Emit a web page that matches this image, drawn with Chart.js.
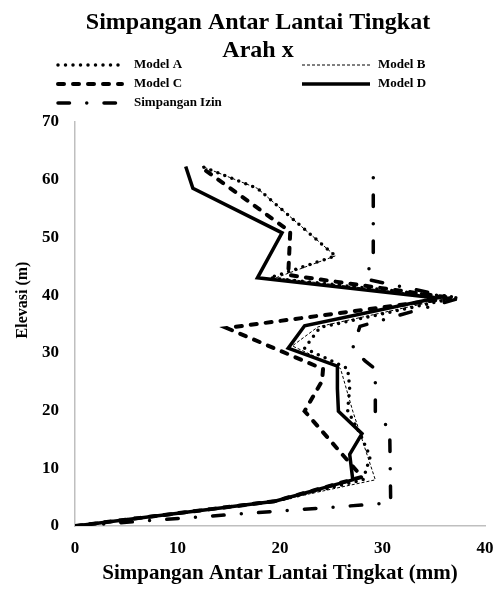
<!DOCTYPE html>
<html>
<head>
<meta charset="utf-8">
<script src="https://cdn.jsdelivr.net/npm/chart.js@4.4.0/dist/chart.umd.min.js"></script>
<style>
    html, body { margin: 0; padding: 0; background: #fff; }
    #wrap { width: 501px; height: 592px; }
</style>
</head>
<body>
<div id="wrap"><canvas id="chart-drift"></canvas></div>
<script>
// Elevasi (m) y simpangan (mm) por modelo
const elevA = [0, 4.3, 8.0, 12.0, 16.0, 20.0, 24.0, 27.3, 30.8, 34.4, 39.6, 43.0, 46.8, 58.5, 62.3];
const driftA = [0, 19.5, 28.1, 28.8, 27.8, 26.6, 26.8, 26.6, 22.4, 23.9, 37.3, 19.0, 25.4, 17.8, 12.4];

const elevB = [0, 4.3, 8.0, 19.9, 27.3, 31.2, 34.5, 39.5, 43.0, 46.8, 58.5, 62.3];
const driftB = [0, 19.5, 29.3, 27.1, 25.9, 21.2, 23.7, 36.5, 19.6, 25.4, 17.8, 12.4];

const elevC = [0, 4.3, 8.5, 19.9, 25.1, 27.2, 34.3, 39.5, 43.5, 51.0, 62.3];
const driftC = [0, 19.5, 28.0, 22.4, 24.1, 24.2, 14.8, 36.8, 20.8, 21.0, 12.2];

const elevD = [0, 4.3, 8.0, 12.4, 16.0, 19.9, 23.8, 27.7, 30.8, 34.7, 39.5, 43.0, 50.8, 58.5, 62.3];
const driftD = [0, 19.5, 27.1, 26.8, 28.0, 25.7, 25.6, 25.6, 20.8, 22.4, 35.3, 17.8, 20.2, 11.5, 10.8];

const elevIzin = [0, 4.0, 16.9, 19.3, 27.2, 28.6, 30.8, 34.6, 39.4, 42.8, 46.5, 62.3];
const driftIzin = [0, 30.8, 30.7, 29.3, 29.3, 28.3, 27.1, 27.8, 37.4, 28.3, 29.1, 29.1];

const seriesNames = ["Model A", "Model B", "Model C", "Model D", "Simpangan Izin"];
const xTicks = [0, 10, 20, 30, 40];
const yTicks = [0, 10, 20, 30, 40, 50, 60, 70];
const titleLines = ["Simpangan Antar Lantai Tingkat", "Arah x"];

const serif = "'Liberation Serif', 'Times New Roman', serif";

function toPoints(xs, ys) {
    return xs.map((x, i) => ({ x: x, y: ys[i] }));
}

// Posiciones de la leyenda (dos columnas como el original)
const legendSlots = [
    { x: 58, y: 65, len: 62, textX: 134 },
    { x: 302, y: 65, len: 68, textX: 378 },
    { x: 58, y: 84, len: 64, textX: 134 },
    { x: 302, y: 84, len: 68, textX: 378 },
    { x: 58, y: 103, len: 62, textX: 134 },
];

const customLegend = {
    id: "customLegend",
    afterDraw(chart) {
        const ctx = chart.ctx;

        // titulo principal
        ctx.save();
        ctx.fillStyle = "#000";
        ctx.font = "bold 24px " + serif;
        ctx.textAlign = "center";
        ctx.textBaseline = "middle";
        titleLines.forEach((t, i) => ctx.fillText(t, 258, 23 + i * 28));
        ctx.restore();

        legendSlots.forEach((slot, i) => {
            const ds = chart.data.datasets[i];
            ctx.save();
            ctx.strokeStyle = ds.borderColor;
            ctx.lineWidth = ds.borderWidth;
            ctx.lineCap = ds.borderCapStyle || "butt";
            ctx.setLineDash(ds.borderDash || []);
            ctx.beginPath();
            ctx.moveTo(slot.x, slot.y);
            ctx.lineTo(slot.x + slot.len, slot.y);
            ctx.stroke();
            ctx.setLineDash([]);
            ctx.fillStyle = "#000";
            ctx.font = "bold 13px " + serif;
            ctx.textBaseline = "middle";
            ctx.textAlign = "left";
            ctx.fillText(ds.label, slot.textX, slot.y);
            ctx.restore();
        });

        // titulo del eje Y
        ctx.save();
        ctx.translate(23, 300);
        ctx.rotate(-Math.PI / 2);
        ctx.fillStyle = "#000";
        ctx.font = "bold 16px " + serif;
        ctx.textAlign = "center";
        ctx.textBaseline = "middle";
        ctx.fillText("Elevasi (m)", 0, 0);
        ctx.restore();
    },
};

var ctx1 = document.getElementById("chart-drift").getContext("2d");

new Chart(ctx1, {
    type: "scatter",
    data: {
        datasets: [
            {
                label: seriesNames[0],
                data: toPoints(driftA, elevA),
                showLine: true,
                borderColor: "#000",
                borderWidth: 3.5,
                borderCapStyle: "round",
                borderDash: [0, 7.5],
                pointRadius: 0,
            },
            {
                label: seriesNames[1],
                data: toPoints(driftB, elevB),
                showLine: true,
                borderColor: "#000",
                borderWidth: 1,
                borderDash: [3, 2],
                pointRadius: 0,
            },
            {
                label: seriesNames[2],
                data: toPoints(driftC, elevC),
                showLine: true,
                borderColor: "#000",
                borderWidth: 4,
                borderCapStyle: "round",
                borderDash: [6, 9],
                pointRadius: 0,
            },
            {
                label: seriesNames[3],
                data: toPoints(driftD, elevD),
                showLine: true,
                borderColor: "#000",
                borderWidth: 3.5,
                pointRadius: 0,
            },
            {
                label: seriesNames[4],
                data: toPoints(driftIzin, elevIzin),
                showLine: true,
                borderColor: "#000",
                borderWidth: 3.5,
                borderCapStyle: "round",
                borderDash: [11.5, 17.25, 0, 17.25],
                pointRadius: 0,
            },
        ],
    },
    options: {
        responsive: true,
        maintainAspectRatio: false,
        animation: false,
        layout: {
            padding: { top: 122, right: 16, bottom: 2, left: 0 },
        },
        elements: {
            line: { tension: 0, borderJoinStyle: "miter" },
        },
        plugins: {
            legend: { display: false },
            tooltip: { enabled: false },
            title: { display: false },
        },
        scales: {
            x: {
                type: "linear",
                min: 0,
                max: 40,
                afterBuildTicks: (s) => {
                    s.ticks = xTicks.map((v) => ({ value: v }));
                },
                afterFit: (s) => {
                    s.height = 64;
                    s.paddingRight = 0;
                },
                grid: { display: false },
                border: { display: true, color: "#bfbfbf", width: 1.5 },
                ticks: {
                    color: "#000",
                    padding: 4,
                    maxRotation: 0,
                    font: { family: serif, size: 17, weight: "bold" },
                },
                title: {
                    display: true,
                    text: "Simpangan Antar Lantai Tingkat (mm)",
                    color: "#000",
                    font: { family: serif, size: 21, weight: "bold" },
                    padding: { top: 4, bottom: 4 },
                },
            },
            y: {
                type: "linear",
                min: 0,
                max: 70,
                afterBuildTicks: (s) => {
                    s.ticks = yTicks.map((v) => ({ value: v }));
                },
                afterFit: (s) => {
                    s.width = 75;
                },
                grid: { display: false },
                border: { display: true, color: "#bfbfbf", width: 1.5 },
                ticks: {
                    color: "#000",
                    padding: 8,
                    font: { family: serif, size: 17, weight: "bold" },
                },
            },
        },
    },
    plugins: [customLegend],
});
</script>
</body>
</html>
